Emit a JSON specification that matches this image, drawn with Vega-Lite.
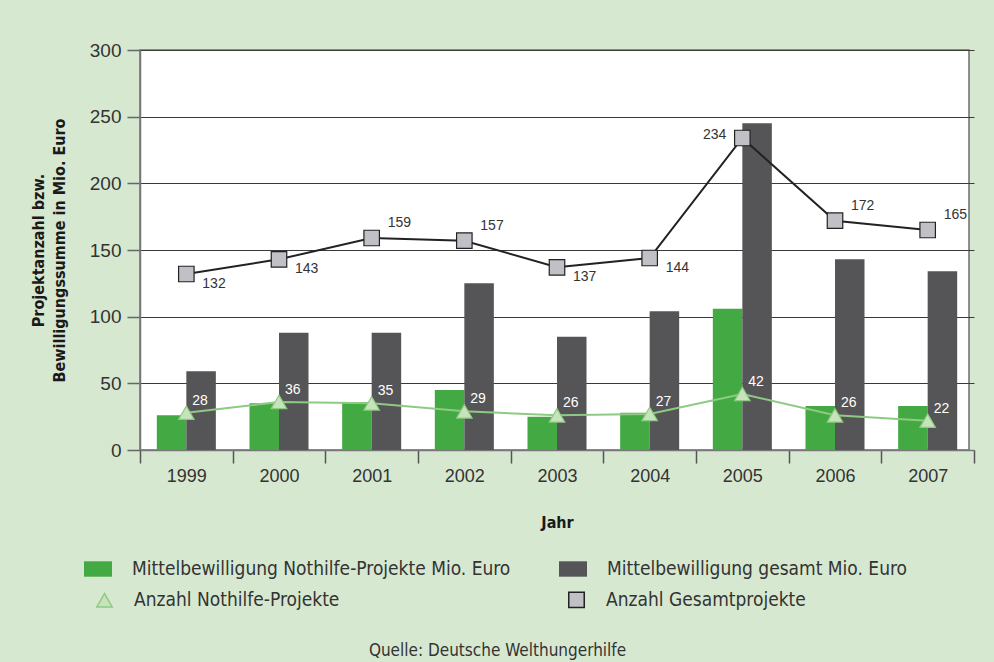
{
  "$schema": "https://vega.github.io/schema/vega-lite/v6.json",
  "width": 829,
  "height": 400,
  "autosize": {"type": "none"},
  "padding": {"left": 140, "top": 50, "right": 25, "bottom": 212},
  "background": "#d7e8d1",
  "config": {
    "view": {"fill": "white", "stroke": "#6e6e6e", "strokeWidth": 1.5},
    "font": "Liberation Sans",
    "axis": {"labelFont": "Liberation Sans", "labelColor": "#333333", "titleColor": "#1a1a1a", "titleFont": "DejaVu Sans Condensed, Roboto"},
    "legend": {
      "title": null,
      "direction": "horizontal",
      "columns": 2,
      "symbolSize": 784,
      "labelOffset": 20,
      "labelFont": "DejaVu Sans Condensed, Roboto",
      "labelFontSize": 19,
      "labelColor": "#333333",
      "labelLimit": 600
    }
  },
  "title": {
    "text": "Quelle: Deutsche Welthungerhilfe",
    "orient": "bottom",
    "anchor": "middle",
    "frame": "group",
    "dx": -57,
    "font": "DejaVu Sans Condensed, Roboto",
    "fontSize": 17,
    "fontWeight": "normal",
    "color": "#333333",
    "offset": 32
  },
  "datasets": {
    "bars": [
      {"Jahr": "1999", "Serie": "Mittelbewilligung Nothilfe-Projekte Mio. Euro", "Wert": 26},
      {"Jahr": "1999", "Serie": "Mittelbewilligung gesamt Mio. Euro", "Wert": 59},
      {"Jahr": "2000", "Serie": "Mittelbewilligung Nothilfe-Projekte Mio. Euro", "Wert": 35},
      {"Jahr": "2000", "Serie": "Mittelbewilligung gesamt Mio. Euro", "Wert": 88},
      {"Jahr": "2001", "Serie": "Mittelbewilligung Nothilfe-Projekte Mio. Euro", "Wert": 36},
      {"Jahr": "2001", "Serie": "Mittelbewilligung gesamt Mio. Euro", "Wert": 88},
      {"Jahr": "2002", "Serie": "Mittelbewilligung Nothilfe-Projekte Mio. Euro", "Wert": 45},
      {"Jahr": "2002", "Serie": "Mittelbewilligung gesamt Mio. Euro", "Wert": 125},
      {"Jahr": "2003", "Serie": "Mittelbewilligung Nothilfe-Projekte Mio. Euro", "Wert": 25},
      {"Jahr": "2003", "Serie": "Mittelbewilligung gesamt Mio. Euro", "Wert": 85},
      {"Jahr": "2004", "Serie": "Mittelbewilligung Nothilfe-Projekte Mio. Euro", "Wert": 28},
      {"Jahr": "2004", "Serie": "Mittelbewilligung gesamt Mio. Euro", "Wert": 104},
      {"Jahr": "2005", "Serie": "Mittelbewilligung Nothilfe-Projekte Mio. Euro", "Wert": 106},
      {"Jahr": "2005", "Serie": "Mittelbewilligung gesamt Mio. Euro", "Wert": 245},
      {"Jahr": "2006", "Serie": "Mittelbewilligung Nothilfe-Projekte Mio. Euro", "Wert": 33},
      {"Jahr": "2006", "Serie": "Mittelbewilligung gesamt Mio. Euro", "Wert": 143},
      {"Jahr": "2007", "Serie": "Mittelbewilligung Nothilfe-Projekte Mio. Euro", "Wert": 33},
      {"Jahr": "2007", "Serie": "Mittelbewilligung gesamt Mio. Euro", "Wert": 134}
    ],
    "lines": [
      {"Jahr": "1999", "Serie": "Anzahl Nothilfe-Projekte", "Anzahl": 28},
      {"Jahr": "2000", "Serie": "Anzahl Nothilfe-Projekte", "Anzahl": 36},
      {"Jahr": "2001", "Serie": "Anzahl Nothilfe-Projekte", "Anzahl": 35},
      {"Jahr": "2002", "Serie": "Anzahl Nothilfe-Projekte", "Anzahl": 29},
      {"Jahr": "2003", "Serie": "Anzahl Nothilfe-Projekte", "Anzahl": 26},
      {"Jahr": "2004", "Serie": "Anzahl Nothilfe-Projekte", "Anzahl": 27},
      {"Jahr": "2005", "Serie": "Anzahl Nothilfe-Projekte", "Anzahl": 42},
      {"Jahr": "2006", "Serie": "Anzahl Nothilfe-Projekte", "Anzahl": 26},
      {"Jahr": "2007", "Serie": "Anzahl Nothilfe-Projekte", "Anzahl": 22},
      {"Jahr": "1999", "Serie": "Anzahl Gesamtprojekte", "Anzahl": 132},
      {"Jahr": "2000", "Serie": "Anzahl Gesamtprojekte", "Anzahl": 143},
      {"Jahr": "2001", "Serie": "Anzahl Gesamtprojekte", "Anzahl": 159},
      {"Jahr": "2002", "Serie": "Anzahl Gesamtprojekte", "Anzahl": 157},
      {"Jahr": "2003", "Serie": "Anzahl Gesamtprojekte", "Anzahl": 137},
      {"Jahr": "2004", "Serie": "Anzahl Gesamtprojekte", "Anzahl": 144},
      {"Jahr": "2005", "Serie": "Anzahl Gesamtprojekte", "Anzahl": 234},
      {"Jahr": "2006", "Serie": "Anzahl Gesamtprojekte", "Anzahl": 172},
      {"Jahr": "2007", "Serie": "Anzahl Gesamtprojekte", "Anzahl": 165}
    ]
  },
  "encoding": {
    "x": {
      "field": "Jahr",
      "type": "nominal",
      "scale": {"paddingInner": 0, "paddingOuter": 0, "range": [0, 834]},
      "axis": {
        "title": "Jahr",
        "titleFontSize": 16,
        "titleFontWeight": "bold",
        "titlePadding": 29,
        "labelAngle": 0,
        "labelFontSize": 18,
        "labelPadding": 4,
        "tickBand": "extent",
        "tickSize": 13,
        "tickColor": "#555555",
        "tickWidth": 1.5,
        "domainColor": "#777777",
        "domainWidth": 1.5,
        "grid": false
      }
    }
  },
  "layer": [
    {
      "data": {"name": "bars"},
      "mark": {"type": "bar"},
      "encoding": {
        "xOffset": {
          "field": "Serie",
          "type": "nominal",
          "scale": {"domain": ["Mittelbewilligung Nothilfe-Projekte Mio. Euro", "Mittelbewilligung gesamt Mio. Euro"], "paddingInner": 0, "paddingOuter": 0.57}
        },
        "y": {
          "field": "Wert",
          "type": "quantitative",
          "scale": {"domain": [0, 300]},
          "axis": {
            "title": ["Projektanzahl bzw.", "Bewilligungssumme in Mio. Euro"],
            "titleFontSize": 16,
            "titleFontWeight": "bold",
            "titleLineHeight": 21,
            "titlePadding": 22,
            "values": [0, 50, 100, 150, 200, 250, 300],
            "labelFontSize": 19,
            "labelPadding": 6,
            "tickSize": 13,
            "tickColor": "#666666",
            "tickWidth": 1.5,
            "domainColor": "#777777",
            "domainWidth": 1.5,
            "grid": true,
            "gridColor": "#3a3a3a",
            "gridWidth": 1
          }
        },
        "color": {
          "field": "Serie",
          "type": "nominal",
          "scale": {"domain": ["Mittelbewilligung Nothilfe-Projekte Mio. Euro", "Mittelbewilligung gesamt Mio. Euro"], "range": ["#43a942", "#555558"]},
          "legend": {
            "orient": "none",
            "legendX": -56,
            "legendY": 505,
            "columnPadding": 48,
            "symbolType": "M-1,-0.55H1V0.55H-1Z",
            "symbolStrokeWidth": 0
          }
        }
      }
    },
    {
      "data": {"name": "lines"},
      "mark": {"type": "line", "strokeWidth": 2},
      "encoding": {
        "y": {"field": "Anzahl", "type": "quantitative"},
        "stroke": {
          "field": "Serie",
          "type": "nominal",
          "scale": {"domain": ["Anzahl Nothilfe-Projekte", "Anzahl Gesamtprojekte"], "range": ["#8fca84", "#222222"]},
          "legend": {
            "orient": "none",
            "legendX": -45,
            "legendY": 540,
            "columnPadding": 225,
            "symbolStrokeWidth": 1.5,
            "encode": {
              "symbols": {
                "update": {
                  "shape": {"signal": "datum.value == 'Anzahl Nothilfe-Projekte' ? 'M-1,0.2H-0.45M0.45,0.2H1M0,-0.55L0.45,0.5H-0.45Z' : 'M-1,0H-0.45M0.45,0H1M-0.45,-0.5H0.45V0.5H-0.45Z'"},
                  "opacity": {"value": 1}
                }
              }
            }
          }
        }
      }
    },
    {
      "data": {"name": "lines"},
      "mark": {"type": "point", "filled": true, "opacity": 1, "strokeWidth": 1.2},
      "encoding": {
        "y": {"field": "Anzahl", "type": "quantitative"},
        "shape": {
          "field": "Serie",
          "type": "nominal",
          "scale": {"domain": ["Anzahl Nothilfe-Projekte", "Anzahl Gesamtprojekte"], "range": ["triangle-up", "square"]},
          "legend": null
        },
        "fill": {
          "field": "Serie",
          "type": "nominal",
          "scale": {"domain": ["Anzahl Nothilfe-Projekte", "Anzahl Gesamtprojekte"], "range": ["#c7e3bb", "#c0c0c6"]},
          "legend": null
        },
        "stroke": {
          "field": "Serie",
          "type": "nominal",
          "legend": {
            "orient": "none",
            "legendX": -45,
            "legendY": 540,
            "columnPadding": 225,
            "symbolStrokeWidth": 1.5,
            "encode": {
              "symbols": {
                "update": {
                  "shape": {"signal": "datum.value == 'Anzahl Nothilfe-Projekte' ? 'M-1,0.2H-0.45M0.45,0.2H1M0,-0.55L0.45,0.5H-0.45Z' : 'M-1,0H-0.45M0.45,0H1M-0.45,-0.5H0.45V0.5H-0.45Z'"},
                  "opacity": {"value": 1}
                }
              }
            }
          }
        },
        "size": {
          "field": "Serie",
          "type": "nominal",
          "scale": {"domain": ["Anzahl Nothilfe-Projekte", "Anzahl Gesamtprojekte"], "range": [240, 240]},
          "legend": null
        }
      }
    },
    {
      "data": {"name": "lines"},
      "transform": [{"filter": "datum.Serie == 'Anzahl Nothilfe-Projekte'"}],
      "mark": {"type": "text", "align": "left", "baseline": "middle", "dx": 6, "dy": -12, "fontSize": 14, "color": "white"},
      "encoding": {
        "y": {"field": "Anzahl", "type": "quantitative"},
        "text": {"field": "Anzahl", "type": "quantitative"}
      }
    },
    {
      "data": {"name": "lines"},
      "transform": [{"filter": "datum.Serie == 'Anzahl Gesamtprojekte' && indexof(['1999','2000','2003','2004'], datum.Jahr) >= 0"}],
      "mark": {"type": "text", "align": "left", "baseline": "middle", "dx": 16, "dy": 10, "fontSize": 14, "color": "#333333"},
      "encoding": {
        "y": {"field": "Anzahl", "type": "quantitative"},
        "text": {"field": "Anzahl", "type": "quantitative"}
      }
    },
    {
      "data": {"name": "lines"},
      "transform": [{"filter": "datum.Serie == 'Anzahl Gesamtprojekte' && indexof(['2001','2002','2006','2007'], datum.Jahr) >= 0"}],
      "mark": {"type": "text", "align": "left", "baseline": "middle", "dx": 16, "dy": -15, "fontSize": 14, "color": "#333333"},
      "encoding": {
        "y": {"field": "Anzahl", "type": "quantitative"},
        "text": {"field": "Anzahl", "type": "quantitative"}
      }
    },
    {
      "data": {"name": "lines"},
      "transform": [{"filter": "datum.Serie == 'Anzahl Gesamtprojekte' && datum.Jahr == '2005'"}],
      "mark": {"type": "text", "align": "right", "baseline": "middle", "dx": -16, "dy": -3, "fontSize": 14, "color": "#333333"},
      "encoding": {
        "y": {"field": "Anzahl", "type": "quantitative"},
        "text": {"field": "Anzahl", "type": "quantitative"}
      }
    }
  ]
}
